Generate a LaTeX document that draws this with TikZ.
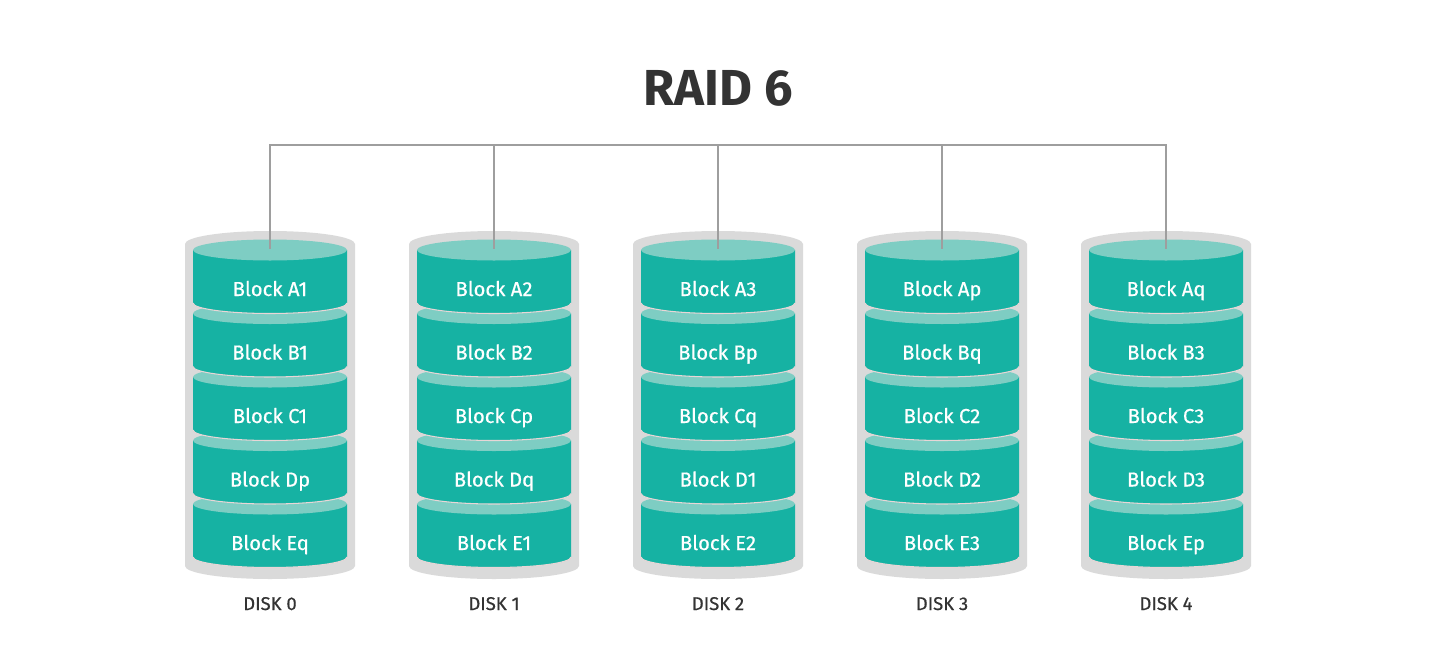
\documentclass[tikz,border=0pt]{standalone}
\usepackage{fontspec}
\setmainfont{Fira Sans}
\usetikzlibrary{positioning}
\definecolor{tealdark}{RGB}{22,178,163}
\definecolor{teallight}{RGB}{126,205,195}
\definecolor{shell}{RGB}{218,218,218}
\definecolor{seam}{RGB}{232,214,214}
\definecolor{ink}{RGB}{51,51,51}
\definecolor{wirecol}{RGB}{158,158,158}
\tikzset{
  drum/.style={fill=shell},
  body/.style={fill=tealdark},
  lid/.style={fill=teallight},
  seamline/.style={draw=seam,line width=0.6pt},
  wire/.style={draw=wirecol,line width=1.1pt},
  blocklabel/.style={anchor=base,text=white,font=\fontsize{11.5}{13}\selectfont\addfontfeature{FakeBold=0.6}},
  disklabel/.style={anchor=base,text=ink,font=\fontsize{10.5}{12}\selectfont\addfontfeature{FakeBold=0.6}},
  titlelabel/.style={text=ink,font=\fontsize{28.8}{32}\selectfont\bfseries}
}
\def\drx{85}
\def\dry{13}
\def\brx{77}
\def\bry{10.5}
\def\bh{53}

\begin{document}
\begin{tikzpicture}[x=0.02cm,y=0.02cm]
  \useasboundingbox (0,0) rectangle (1433,-649);

  % Title
  \node[titlelabel] (title) at (718,-88) {RAID 6};

  % Disks
  \foreach \i/\labs in {0/{Eq,Dp,C1,B1,A1},1/{E1,Dq,Cp,B2,A2},2/{E2,D1,Cq,Bp,A3},3/{E3,D2,C2,Bq,Ap},4/{Ep,D3,C3,B3,Aq}}{
    \pgfmathsetmacro\x{270+224*\i}
    \fill[drum] (\x-\drx,-244) -- (\x-\drx,-566) arc[start angle=180,end angle=360,x radius=\drx,y radius=\dry]
      -- (\x+\drx,-244) arc[start angle=0,end angle=180,x radius=\drx,y radius=\dry] -- cycle;
    \foreach \lab [count=\k] in \labs {
      \pgfmathsetmacro\yt{-(250+63.5*(5-\k))}
      \pgfmathtruncatemacro\j{5-\k}
      \fill[body] (\x-\brx,\yt) -- (\x-\brx,\yt-\bh) arc[start angle=180,end angle=360,x radius=\brx,y radius=\bry] -- (\x+\brx,\yt) -- cycle;
      \draw[seamline] (\x-\brx,\yt-\bh) arc[start angle=180,end angle=360,x radius=\brx,y radius=\bry];
      \fill[lid] (\x,\yt) ellipse [x radius=\brx,y radius=\bry];
      \node[blocklabel] (blk-\i-\j) at (\x,\yt-46) {Block \lab};
    }
    \node[disklabel] (disk-\i) at (\x,-610) {DISK \i};
    \coordinate (bus-\i) at (\x,-145);
    \coordinate (tap-\i) at (\x,-249);
  }

  % Wiring
  \draw[wire] (tap-0) |- (bus-4) -- (tap-4);
  \foreach \i in {1,2,3}
    \draw[wire] (bus-\i) -- (tap-\i);
\end{tikzpicture}
\end{document}
